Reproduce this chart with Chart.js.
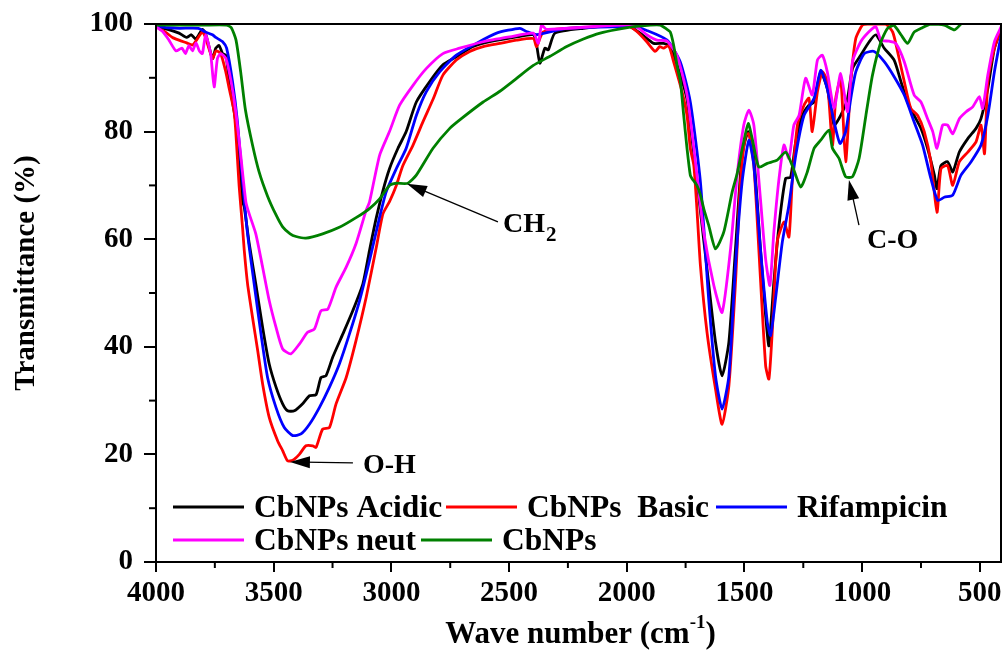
<!DOCTYPE html>
<html>
<head>
<meta charset="utf-8">
<script src="https://cdn.jsdelivr.net/npm/chart.js@4.4.1/dist/chart.umd.min.js"></script>
<style>
  html, body { margin: 0; padding: 0; background: #fff; }
  #wrap { width: 1004px; height: 654px; }
</style>
</head>
<body>
<div id="wrap"><canvas id="ftir"></canvas></div>
<script>
// FTIR spectra, wavenumber (cm-1) vs transmittance (%)
const acidicWn = [4000,3950,3902,3870,3850,3831,3803,3790,3760,3746,3732,3717,3703,3689,3661,3647,3632,3625,3604,3576,3547,3519,3490,3462,3441,3412,3377,3348,3320,3299,3278,3249,3206,3164,3121,3093,3064,3036,3008,2972,2937,2894,2837,2781,2724,2653,2582,2468,2397,2383,2369,2348,2333,2305,2184,2000,1943,1886,1844,1822,1801,1765,1744,1723,1701,1659,1623,1595,1566,1538,1510,1484,1460,1432,1410,1396,1375,1353,1325,1304,1282,1254,1226,1204,1176,1148,1119,1091,1062,1041,1006,970,942,906,864,835,807,779,750,722,693,682,665,637,615,587,551,516,495,466,438,409];
const acidicT = [99.5,99,98.3,97.5,98,97.2,99,98.3,93.6,95.5,96,94.5,94.2,89.3,81.8,75.6,67,66,59.2,51.7,43.6,36.8,32.5,29.4,28.1,28.1,29.4,30.9,31.1,34.3,34.6,38.1,42.4,46.7,51.7,57.9,64,69,73.1,76.9,80,85.5,89.3,92.4,93.9,95.8,96.7,97.6,98,96.1,92.7,95.5,95.2,98.3,99.2,99.8,98.3,96.4,96.4,96,94.2,89.5,86,78.7,70.6,54.5,40.9,34.6,40.9,58.2,75.6,80,75,58.2,45.8,40.2,52,62.6,71.3,71.5,78.1,83,84.9,85.5,91.1,88,81.2,83,86.2,91.7,94.2,96.7,98,95.5,93.3,89.3,85.5,83,80.6,76.9,71.9,69.4,73.7,74.4,72.5,76.2,78.7,80.6,82.4,88,95.5,99];

const basicWn = [4000,3960,3930,3902,3870,3845,3831,3803,3790,3760,3745,3725,3703,3689,3668,3661,3647,3632,3625,3611,3590,3568,3547,3519,3483,3462,3441,3419,3391,3363,3334,3320,3292,3263,3235,3192,3150,3107,3064,3036,3008,2979,2951,2908,2866,2823,2781,2724,2667,2610,2539,2468,2397,2383,2355,2255,2113,2000,1957,1915,1879,1860,1844,1822,1801,1765,1744,1730,1715,1702,1687,1659,1623,1595,1566,1538,1517,1495,1481,1460,1439,1410,1396,1382,1361,1332,1311,1297,1275,1247,1226,1212,1190,1169,1148,1126,1112,1091,1070,1048,1027,999,977,940,900,870,850,821,793,764,736,708,682,665,637,615,587,551,516,495,480,466,438,409];
const basicT = [99.5,98.5,97.5,97,96.5,96.1,96.8,98.5,97.5,93.6,95,94.5,91,88,83.7,80,70,62,57.9,51.7,45.5,39.3,33.1,26.9,22.5,20.7,18.8,18.9,20,21.6,21.6,21.3,24.7,25,29.4,34.3,41.2,49.2,58.5,64.7,67,70,73.7,77.5,81.8,86,90.5,93.3,94.9,95.8,96.4,97,97.3,95.8,98.5,99.2,99.5,99.8,98.6,96.7,94.9,95.8,95.5,96,93,87.4,83,76.9,73.7,65.7,55.1,42.7,32.2,25.6,32.8,52,70.6,79.3,79.6,73.7,58.2,36.5,34,42.7,59.5,63.2,60.4,70.6,81.2,84.9,86.2,80,87.4,91.1,89.3,77.5,86.2,89.9,74.4,89.3,97.3,99.8,100,100,100,98.5,95,89.3,84.3,83,80,74.4,65,73.1,73.7,70,74.4,76.2,78.1,81.2,75.9,89.3,95.5,99.2];

const rifWn = [4000,3950,3900,3820,3790,3760,3746,3717,3700,3675,3654,3632,3611,3583,3554,3526,3490,3455,3419,3384,3348,3306,3263,3221,3178,3135,3093,3050,3022,2979,2937,2894,2852,2795,2724,2639,2553,2454,2426,2383,2300,2255,1971,1915,1829,1773,1730,1687,1652,1623,1595,1566,1538,1510,1481,1460,1432,1403,1389,1368,1339,1311,1282,1247,1204,1176,1148,1119,1094,1070,1048,1027,991,949,906,864,821,779,743,708,679,651,615,580,537,495,466,438,409];
const rifT = [99.5,99.3,99.2,99.2,98.5,98,97.5,96.7,95.5,89.3,81.8,70.6,61,51.7,42.4,34.3,28.7,25,23.5,23.8,25.6,28.7,32.5,36.8,42.4,48.6,56,64.1,68.8,73.1,76.9,83,87.4,91.1,94.2,96.4,98.3,99.2,98.6,98,98.8,99.2,99.5,98.8,97,93,85.5,70.6,48.9,34.6,28.4,34.6,55.1,70.6,78.4,73.7,58.2,44.6,42.1,48.9,59.5,66.3,75.6,83,86.2,91.4,88,81.8,77.8,80,86.2,91.1,94.5,94.9,93,90.2,86.8,81.8,77.5,71.3,67.2,67.8,68.2,71.9,74.4,77.5,83,91.1,98];

const neutWn = [4000,3970,3945,3915,3890,3875,3860,3845,3830,3816,3803,3789,3768,3753,3739,3725,3703,3681,3661,3640,3618,3604,3576,3547,3519,3490,3462,3427,3391,3356,3327,3299,3270,3235,3192,3150,3107,3093,3050,3008,2965,2908,2852,2781,2710,2610,2497,2397,2376,2362,2341,2184,1971,1915,1872,1829,1787,1744,1715,1702,1673,1630,1595,1559,1531,1503,1481,1460,1432,1410,1392,1375,1353,1332,1311,1290,1268,1240,1212,1190,1169,1148,1119,1091,1062,1041,1006,970,942,920,885,857,821,779,750,722,700,682,658,637,615,587,558,530,502,488,466,438,409];
const neutT = [99.5,98.5,97,95,95.5,94.5,96,95,96.5,95,94.5,98,94.5,88.3,93.6,94.5,93.6,89.3,83.7,75.6,66.9,64.7,61,54.8,48.6,43.6,39.6,38.7,40.5,42.7,43.3,46.7,47,51.1,54.8,59.2,65.4,66.9,75.6,80,84.9,88.6,91.7,94.5,95.5,96.7,97.6,98.3,96.4,99.8,99,99.4,99.8,98,97,96.8,94.2,86.8,76.9,72,61.3,51.4,46.4,58.2,71.9,81.2,84,81.2,67.5,56.3,51.4,61.3,71.3,77.5,75,81.2,83,89.9,86.8,93.3,94.2,91.1,84.3,90.8,83.7,93,96.7,98.6,99.5,97,96.8,96.4,93,86.8,85.5,82.4,80,76.9,81.2,81.2,79.6,82.4,83.7,84.6,86.5,84.3,90.5,96.7,99.5];

const cbWn = [4000,3900,3800,3700,3680,3660,3640,3620,3590,3562,3526,3490,3462,3430,3405,3363,3292,3221,3150,3093,3050,3008,2979,2930,2894,2823,2752,2700,2610,2539,2468,2397,2326,2255,2184,2113,2040,1971,1900,1858,1829,1815,1801,1785,1772,1758,1744,1730,1723,1702,1687,1673,1652,1623,1588,1552,1531,1503,1484,1467,1439,1403,1361,1325,1297,1261,1233,1204,1176,1141,1126,1098,1070,1041,1013,984,956,920,892,864,835,807,779,750,708,651,608,580];
const cbT = [99.8,99.8,99.8,99.8,99.3,97,91,84,77.5,72.5,68,64.5,62.3,61,60.5,60.2,61,62.2,64,65.7,67.5,70,70.4,70.4,71.9,76.9,80.6,82.5,85.5,87.5,89.9,92.3,94,95.8,97.2,98.3,99,99.5,99.8,99.8,99,98.5,96.1,92,89.3,83,76.9,71.9,71.3,70,68.2,65.7,62.6,58.2,61.3,68.8,72.2,78.1,81.5,78.7,73.4,74.1,74.7,76.2,73.7,69.7,72.5,76.9,78.4,80.3,76.9,75,71.6,71.6,75,83,90.5,96.7,99.2,99.7,98,96.4,98.5,99.2,100,99.8,98.9,100];

const xMajor = [4000,3500,3000,2500,2000,1500,1000,500];
const xMinor = [3750,3250,2750,2250,1750,1250,750];
const yMinor = [10,30,50,70,90];

const serif = '"Liberation Serif", "Times New Roman", serif';

function pts(wn, t) {
  return wn.map((w, i) => ({ x: w, y: t[i] }));
}

function line(label, wn, t, color, order) {
  return {
    label: label,
    data: pts(wn, t),
    borderColor: color,
    backgroundColor: color,
    borderWidth: 2.8,
    pointRadius: 0,
    tension: 0.2,
    order: order
  };
}

function arrow(ctx, x1, y1, x2, y2) {
  const a = Math.atan2(y2 - y1, x2 - x1);
  ctx.beginPath();
  ctx.moveTo(x1, y1);
  ctx.lineTo(x2 - 14 * Math.cos(a), y2 - 14 * Math.sin(a));
  ctx.lineWidth = 1.3;
  ctx.stroke();
  ctx.beginPath();
  ctx.moveTo(x2, y2);
  ctx.lineTo(x2 - 20 * Math.cos(a) + 6 * Math.sin(a), y2 - 20 * Math.sin(a) - 6 * Math.cos(a));
  ctx.lineTo(x2 - 20 * Math.cos(a) - 6 * Math.sin(a), y2 - 20 * Math.sin(a) + 6 * Math.cos(a));
  ctx.closePath();
  ctx.fill();
}

const extras = {
  id: 'extras',
  afterDraw(chart) {
    const ctx = chart.ctx;
    const area = chart.chartArea;
    const xs = chart.scales.x;
    const ys = chart.scales.y;
    ctx.save();
    ctx.strokeStyle = '#000';
    ctx.fillStyle = '#000';

    // frame
    ctx.lineWidth = 2;
    ctx.strokeRect(area.left, area.top, area.right - area.left, area.bottom - area.top);

    // minor ticks
    xMinor.forEach(v => {
      const px = xs.getPixelForValue(v);
      ctx.beginPath();
      ctx.moveTo(px, area.bottom);
      ctx.lineTo(px, area.bottom + 6);
      ctx.stroke();
    });
    yMinor.forEach(v => {
      const py = ys.getPixelForValue(v);
      ctx.beginPath();
      ctx.moveTo(area.left, py);
      ctx.lineTo(area.left - 7, py);
      ctx.stroke();
    });

    // axis titles
    ctx.textBaseline = 'alphabetic';
    ctx.font = 'bold 31px ' + serif;
    const t1 = 'Wave number (cm';
    const w1 = ctx.measureText(t1).width;
    ctx.font = 'bold 19px ' + serif;
    const w2 = ctx.measureText('-1').width;
    ctx.font = 'bold 31px ' + serif;
    const w3 = ctx.measureText(')').width;
    let tx = (area.left + area.right) / 2 - (w1 + w2 + w3) / 2 + 2;
    ctx.textAlign = 'left';
    ctx.fillText(t1, tx, 643);
    ctx.font = 'bold 19px ' + serif;
    ctx.fillText('-1', tx + w1, 628);
    ctx.font = 'bold 31px ' + serif;
    ctx.fillText(')', tx + w1 + w2, 643);

    ctx.save();
    ctx.translate(34, 273);
    ctx.rotate(-Math.PI / 2);
    ctx.textAlign = 'center';
    ctx.font = 'bold 29px ' + serif;
    ctx.fillText('Transmittance (%)', 0, 0);
    ctx.restore();

    // legend
    const legend = [
      { label: 'CbNPs Acidic', color: '#000000', x: 173, row: 0 },
      { label: 'CbNPs  Basic', color: '#ff0000', x: 446, row: 0 },
      { label: 'Rifampicin', color: '#0000ff', x: 716, row: 0 },
      { label: 'CbNPs neut', color: '#ff00ff', x: 173, row: 1 },
      { label: 'CbNPs', color: '#008000', x: 421, row: 1 }
    ];
    ctx.font = 'bold 31.5px ' + serif;
    ctx.textAlign = 'left';
    legend.forEach(it => {
      const ly = 507 + it.row * 33;
      ctx.strokeStyle = it.color;
      ctx.lineWidth = 3;
      ctx.beginPath();
      ctx.moveTo(it.x, ly);
      ctx.lineTo(it.x + 71, ly);
      ctx.stroke();
      ctx.fillStyle = '#000';
      ctx.fillText(it.label, it.x + 81, ly + 10);
    });

    // annotations
    ctx.strokeStyle = '#000';
    ctx.fillStyle = '#000';
    ctx.font = 'bold 28px ' + serif;

    let px = xs.getPixelForValue(3431), py = ys.getPixelForValue(18.6);
    arrow(ctx, px + 63, py + 1, px, py);
    ctx.fillText('O-H', px + 73, py + 11);

    px = xs.getPixelForValue(2934); py = ys.getPixelForValue(70.3);
    arrow(ctx, px + 91, py + 38, px, py);
    ctx.fillText('CH', px + 96, py + 48);
    const wch = ctx.measureText('CH').width;
    ctx.font = 'bold 21px ' + serif;
    ctx.fillText('2', px + 96 + wch + 1, py + 57);

    ctx.font = 'bold 28px ' + serif;
    px = xs.getPixelForValue(1056); py = ys.getPixelForValue(71.0);
    arrow(ctx, px + 10, py + 45, px, py);
    ctx.fillText('C-O', px + 18, py + 68);

    ctx.restore();
  }
};

new Chart(document.getElementById('ftir'), {
  type: 'line',
  data: {
    datasets: [
      line('CbNPs Acidic', acidicWn, acidicT, '#000000', 5),
      line('CbNPs  Basic', basicWn, basicT, '#ff0000', 4),
      line('Rifampicin', rifWn, rifT, '#0000ff', 3),
      line('CbNPs neut', neutWn, neutT, '#ff00ff', 2),
      line('CbNPs', cbWn, cbT, '#008000', 1)
    ]
  },
  options: {
    responsive: true,
    maintainAspectRatio: false,
    animation: false,
    devicePixelRatio: 1,
    layout: { padding: { top: 24, right: 3, left: 0, bottom: 0 } },
    plugins: {
      legend: { display: false },
      tooltip: { enabled: false }
    },
    scales: {
      x: {
        type: 'linear',
        reverse: true,
        min: 410,
        max: 4000,
        afterBuildTicks: scale => { scale.ticks = xMajor.map(v => ({ value: v })); },
        afterFit: scale => { scale.height = 92; scale.paddingRight = 0; },
        grid: { display: true, drawOnChartArea: false, color: '#000', lineWidth: 2, tickLength: 10 },
        border: { display: true, color: '#000', width: 2 },
        ticks: {
          color: '#000',
          padding: 4,
          maxRotation: 0,
          autoSkip: false,
          callback: v => String(v),
          font: { family: serif, size: 29, weight: 'bold' }
        }
      },
      y: {
        min: 0,
        max: 100,
        afterFit: scale => { scale.width = 156; scale.paddingTop = 0; scale.paddingBottom = 0; },
        grid: { display: true, drawOnChartArea: false, color: '#000', lineWidth: 2, tickLength: 12 },
        border: { display: true, color: '#000', width: 2 },
        ticks: {
          stepSize: 20,
          color: '#000',
          padding: 11,
          callback: v => String(v),
          font: { family: serif, size: 29, weight: 'bold' }
        }
      }
    }
  },
  plugins: [extras]
});
</script>
</body>
</html>
